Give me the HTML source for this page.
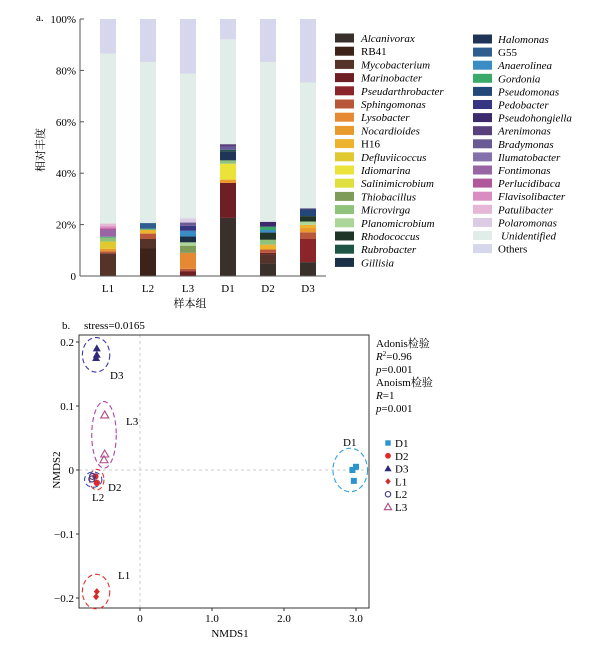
<!DOCTYPE html>
<html><head><meta charset="utf-8">
<style>
body{margin:0;background:#fff;}
svg{display:block;font-family:"Liberation Serif","Noto Serif CJK SC",serif;}
</style></head>
<body>
<svg id="fig" width="611" height="646" viewBox="0 0 611 646" xmlns="http://www.w3.org/2000/svg">
<g id="barchart"></g>
<g id="legendA"></g>
<g id="nmds"></g>
</svg>
<script>
const NS="http://www.w3.org/2000/svg";
const taxa=["Alcanivorax","RB41","Mycobacterium","Marinobacter","Pseudarthrobacter","Sphingomonas","Lysobacter","Nocardioides","H16","Defluviicoccus","Idiomarina","Salinimicrobium","Thiobacillus","Microvirga","Planomicrobium","Rhodococcus","Rubrobacter","Gillisia","Halomonas","G55","Anaerolinea","Gordonia","Pseudomonas","Pedobacter","Pseudohongiella","Arenimonas","Bradymonas","Ilumatobacter","Fontimonas","Perlucidibaca","Flavisolibacter","Patulibacter","Polaromonas","Unidentified","Others"];
const taxaColors=["#3a302b","#3d2219","#553328","#6e1f24","#8b2529","#b9573a","#e58a33","#e89a2d","#edb32f","#e0c92e","#ebe33a","#dfe040","#7e9b59","#8fc27a","#acd698","#1e3527","#1d5446","#1b3046","#1f3456","#2f5d8e","#3a8cc4","#3aaa6a","#22487a","#353583","#3d2a6c","#5a3f7d","#6a5a95","#8470aa","#9a65a5","#b0589a","#d88cbf","#e6b6d6","#dccbe4","#e0ede8","#d6d6ec"];
const nonItalic=["RB41","H16","G55","Others"];
const groups=["L1","L2","L3","D1","D2","D3"];
const compL1=[["Mycobacterium",8.8],["Sphingomonas",0.8],["Nocardioides",1.0],["Defluviicoccus",2.8],["Microvirga",1.5],["Gordonia",0.4],["Fontimonas",2.6],["Perlucidibaca",0.6],["Flavisolibacter",0.9],["Patulibacter",1.0],["Unidentified",66.1],["Others",13.5]];
const compL2=[["RB41",10.7],["Mycobacterium",3.7],["Sphingomonas",2.1],["H16",1.5],["Gordonia",0.4],["G55",2.2],["Unidentified",62.7],["Others",16.7]];
const compL3=[["Marinobacter",1.9],["Sphingomonas",0.9],["Lysobacter",6.2],["Thiobacillus",2.8],["Planomicrobium",1.3],["Gillisia",2.3],["Anaerolinea",2.2],["Pedobacter",1.9],["Bradymonas",1.3],["Polaromonas",1.7],["Unidentified",56.3],["Others",21.2]];
const compD1=[["Alcanivorax",22.6],["Marinobacter",13.6],["Nocardioides",1.3],["Idiomarina",6.2],["Microvirga",1.3],["Halomonas",3.5],["Rubrobacter",0.6],["Bradymonas",1.3],["Arenimonas",0.9],["Unidentified",40.8],["Others",7.9]];
const compD2=[["Alcanivorax",4.9],["Mycobacterium",3.5],["Marinobacter",0.6],["Sphingomonas",1.3],["H16",1.9],["Microvirga",1.9],["Rhodococcus",2.8],["Anaerolinea",1.0],["Gordonia",1.3],["Pseudohongiella",1.9],["Unidentified",62.2],["Others",16.7]];
const compD3=[["Alcanivorax",5.4],["Pseudarthrobacter",9.0],["Sphingomonas",2.6],["Nocardioides",1.7],["H16",1.2],["Planomicrobium",1.3],["Rhodococcus",2.1],["Pseudomonas",2.6],["Pseudohongiella",0.4],["Unidentified",49.0],["Others",24.7]];
const comps=[compL1,compL2,compL3,compD1,compD2,compD3];
const yTicksA=[0,20,40,60,80,100];

const sampleGroups=["D1","D1","D1","D2","D2","D3","D3","D3","L1","L1","L2","L2","L3","L3","L3"];
const nmds1=[2.95,3.0,2.97,-0.62,-0.6,-0.6,-0.6,-0.61,-0.6,-0.61,-0.67,-0.66,-0.49,-0.49,-0.5];
const nmds2=[0.0,0.005,-0.017,-0.01,-0.02,0.19,0.18,0.175,-0.19,-0.198,-0.014,-0.01,0.086,0.025,0.016];
const xTicksB=[0,1.0,2.0,3.0];
const yTicksB=[0.2,0.1,0,-0.1,-0.2];
const grpNames=["D1","D2","D3","L1","L2","L3"];
const grpColors=["#2a94d0","#e02a2a","#2e2a78","#d42a2a","#3a3a8a","#b04a8a"];
const ellColors=["#30a0e0","#e83030","#3a3ab0","#e83030","#3050c0","#b040b0"];
const ellCx=[2.92,-0.6,-0.61,-0.61,-0.65,-0.5];
const ellCy=[0.0,-0.015,0.18,-0.19,-0.015,0.055];
const ellRx=[0.24,0.1,0.19,0.19,0.12,0.17];
const ellRy=[0.034,0.016,0.027,0.027,0.012,0.052];

function el(tag,attrs,parent,text){const e=document.createElementNS(NS,tag);for(const k in attrs)e.setAttribute(k,attrs[k]);if(text!==undefined)e.textContent=text;parent.appendChild(e);return e;}

const bc=document.getElementById('barchart');
const A={x0:80,yb:276,yt:19,step:40,first:108,bw:16};
const ya=v=>A.yb-(A.yb-A.yt)*v/100;
const xa=i=>A.first+i*A.step;
let t;
t=el('text',{x:36,y:21,'font-size':11},bc,'a.');

comps.forEach((c,i)=>{let acc=0;c.forEach(([nm,v])=>{const ci=taxa.indexOf(nm);
 const r=el('rect',{x:xa(i)-A.bw/2,y:ya(acc+v),width:A.bw,height:ya(acc)-ya(acc+v),fill:taxaColors[ci]},bc);
 
 
 acc+=v;});
 const l=el('text',{x:xa(i),y:292,'font-size':11,'text-anchor':'middle'},bc,groups[i]);
 
});
el('line',{x1:A.x0,y1:A.yt,x2:A.x0,y2:A.yb,stroke:'#555'},bc);
el('line',{x1:A.x0,y1:A.yb,x2:326,y2:A.yb,stroke:'#555'},bc);
yTicksA.forEach(v=>{el('line',{x1:A.x0,y1:ya(v),x2:A.x0+4,y2:ya(v),stroke:'#555'},bc);
 const l=el('text',{x:A.x0-4,y:ya(v)+4,'font-size':11,'text-anchor':'end'},bc,v===0?'0':v+'%');
 });
t=el('text',{x:0,y:0,'font-size':11,transform:'translate(44,150) rotate(-90)','text-anchor':'middle'},bc,'相对丰度');

t=el('text',{x:190,y:307,'font-size':11,'text-anchor':'middle'},bc,'样本组');


const lg=document.getElementById('legendA');
taxa.forEach((nm,i)=>{const col=i<18?0:1;const k=col?i-18:i;
 const sx=col?473:335, cy=col?39+k*13.1:38+k*13.2;
 const g=el('g',{},lg);
 el('rect',{x:sx,y:cy-4.5,width:19,height:9,fill:taxaColors[i]},g);
 el('text',{x:sx+(col?25:26)+(nm==='Unidentified'?3:0),y:cy+4,'font-size':11,'font-style':nonItalic.includes(nm)?'normal':'italic'},g,nm);
});

const nm=document.getElementById('nmds');
const B={l:79,r:369,t:335,b:608,x0:140,xs:72,y0:470,ys:640};
const xb=v=>B.x0+v*B.xs, yb=v=>B.y0-v*B.ys;
t=el('text',{x:62,y:329,'font-size':11},nm,'b.');

t=el('text',{x:84,y:329,'font-size':11},nm,'stress=0.0165');

el('line',{x1:xb(0),y1:B.t,x2:xb(0),y2:B.b,stroke:'#ccc','stroke-dasharray':'3,3'},nm);
el('line',{x1:B.l,y1:yb(0),x2:B.r,y2:yb(0),stroke:'#ccc','stroke-dasharray':'3,3'},nm);
el('rect',{x:B.l,y:B.t,width:B.r-B.l,height:B.b-B.t,fill:'none',stroke:'#333'},nm);
xTicksB.forEach(v=>{el('line',{x1:xb(v),y1:B.b,x2:xb(v),y2:B.b+3,stroke:'#333'},nm);
 const l=el('text',{x:xb(v),y:B.b+14,'font-size':11,'text-anchor':'middle'},nm,v===0?'0':v.toFixed(1));
 });
yTicksB.forEach(v=>{el('line',{x1:B.l-3,y1:yb(v),x2:B.l,y2:yb(v),stroke:'#333'},nm);
 const s=v===0?'0':(v<0?'\u2212'+Math.abs(v).toFixed(1):v.toFixed(1));
 const l=el('text',{x:B.l-5,y:yb(v)+4,'font-size':11,'text-anchor':'end'},nm,s);
 });
t=el('text',{x:230,y:637,'font-size':11,'text-anchor':'middle'},nm,'NMDS1');

t=el('text',{x:0,y:0,'font-size':11,transform:'translate(60,470) rotate(-90)','text-anchor':'middle'},nm,'NMDS2');

grpNames.forEach((g,i)=>{const e=el('ellipse',{cx:xb(ellCx[i]),cy:yb(ellCy[i]),rx:ellRx[i]*B.xs,ry:ellRy[i]*B.ys,fill:'none',stroke:ellColors[i],'stroke-dasharray':'5,3','stroke-width':1.1},nm);
 });
function marker(g,x,y,parent,s){const i=grpNames.indexOf(g),c=grpColors[i];s=s||1;let m;
 if(g==='D1')m=el('rect',{x:x-3*s,y:y-3*s,width:6*s,height:6*s,fill:c},parent);
 else if(g==='D2')m=el('circle',{cx:x,cy:y,r:3.2*s,fill:c},parent);
 else if(g==='D3')m=el('polygon',{points:`${x},${y-4*s} ${x+4*s},${y+3*s} ${x-4*s},${y+3*s}`,fill:c},parent);
 else if(g==='L1')m=el('polygon',{points:`${x},${y-3.5*s} ${x+3*s},${y} ${x},${y+3.5*s} ${x-3*s},${y}`,fill:c},parent);
 else if(g==='L2')m=el('circle',{cx:x,cy:y,r:3*s,fill:'none',stroke:c,'stroke-width':1.1},parent);
 else m=el('polygon',{points:`${x},${y-4*s} ${x+4*s},${y+3*s} ${x-4*s},${y+3*s}`,fill:'none',stroke:c,'stroke-width':1.1},parent);
 return m;}
sampleGroups.forEach((g,i)=>{const m=marker(g,xb(nmds1[i]),yb(nmds2[i]),nm);
 });
const grpLabX=[343,108,110,118,92,126], grpLabY=[446,491,379,579,501,425];
grpNames.forEach((g,i)=>{const l=el('text',{x:grpLabX[i],y:grpLabY[i],'font-size':11},nm,g);
 });
const st=el('text',{'font-size':11},nm);
st.innerHTML='<tspan x="376" y="347">Adonis检验</tspan><tspan x="376" y="360" font-style="italic">R</tspan><tspan dy="-4" font-size="7">2</tspan><tspan dy="4">=0.96</tspan><tspan x="376" y="373" font-style="italic">p</tspan><tspan>=0.001</tspan><tspan x="376" y="386">Anoism检验</tspan><tspan x="376" y="399" font-style="italic">R</tspan><tspan>=1</tspan><tspan x="376" y="412" font-style="italic">p</tspan><tspan>=0.001</tspan>';
grpNames.forEach((g,i)=>{const y=443+i*12.8;const gg=el('g',{},nm);
 
 marker(g,388,y,gg,0.9);el('text',{x:395,y:y+4,'font-size':11},gg,g);});
</script>
</body></html>
